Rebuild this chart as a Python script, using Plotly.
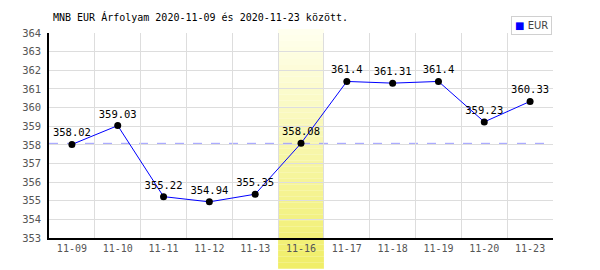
import plotly.graph_objects as go

dates = ["11-09", "11-10", "11-11", "11-12", "11-13", "11-16",
         "11-17", "11-18", "11-19", "11-20", "11-23"]
rates = [358.02, 359.03, 355.22, 354.94, 355.35, 358.08,
         361.4, 361.31, 361.4, 359.23, 360.33]
rate_labels = ["358.02", "359.03", "355.22", "354.94", "355.35", "358.08",
               "361.4", "361.31", "361.4", "359.23", "360.33"]
highlight_idx = 5
title = "MNB EUR Árfolyam 2020-11-09 és 2020-11-23 között."
series_name = "EUR"

FONT = "DejaVu Sans Mono"
xs = list(range(len(dates)))

fig = go.Figure()
fig.add_trace(go.Scatter(
    x=xs, y=rates, mode="lines+markers+text",
    text=rate_labels, textposition="top center",
    textfont=dict(family=FONT, size=10.5, color="#000"),
    line=dict(color="#0000ff", width=1),
    marker=dict(color="#000", size=7),
    showlegend=False, cliponaxis=False, hoverinfo="skip",
))

shapes = []
# gradient highlight column (top light -> bottom yellow)
n = 40
y_top, y_bot = 1.02, -0.15
top_c = (255, 255, 238)
bot_c = (240, 238, 104)
for i in range(n):
    f = i / (n - 1)
    c = tuple(int(round(top_c[k] + (bot_c[k] - top_c[k]) * f)) for k in range(3))
    y0 = y_top + (y_bot - y_top) * i / n
    y1 = y_top + (y_bot - y_top) * (i + 1) / n
    shapes.append(dict(type="rect", xref="x", yref="paper",
                       x0=highlight_idx - 0.5, x1=highlight_idx + 0.5,
                       y0=y1, y1=y0, fillcolor="rgb(%d,%d,%d)" % c,
                       line=dict(width=0), layer="below"))
shapes.append(dict(type="line", xref="paper", yref="y", x0=0, x1=1,
                   y0=rates[highlight_idx], y1=rates[highlight_idx],
                   line=dict(color="#9a9aff", width=1, dash="dash"),
                   layer="below"))

fig.update_layout(
    width=600, height=270,
    margin=dict(l=49, r=47, t=33, b=32),
    paper_bgcolor="#fff", plot_bgcolor="rgba(0,0,0,0)",
    shapes=shapes,
    title=dict(text=title, x=53 / 600, xanchor="left", y=1 - 17 / 270,
               yanchor="middle", font=dict(family=FONT, size=10, color="#000")),
    xaxis=dict(range=[-0.5, len(dates) - 0.5], tickvals=xs, ticktext=dates,
               showgrid=False, showline=True, linecolor="#000", linewidth=1.5,
               zeroline=False, ticks="",
               tickfont=dict(family=FONT, size=10, color="#555"),
               minor=dict(tick0=-0.5, dtick=1, showgrid=True,
                          gridcolor="#dddddd", gridwidth=1, ticks=""),
               layer="above traces"),
    yaxis=dict(range=[353, 364], dtick=1, showgrid=True, gridcolor="#dddddd",
               gridwidth=1, showline=True, linecolor="#000", linewidth=1.5,
               zeroline=False, ticks="", ticklabelstandoff=4,
               tickfont=dict(family=FONT, size=10.5, color="#555")),
    showlegend=False,
    annotations=[dict(
        xref="paper", yref="paper", x=(552 - 49) / 504, y=(238 - 26) / 205,
        xanchor="right", yanchor="middle", showarrow=False,
        text="<span style='color:#0000ff'>■</span> " + series_name,
        font=dict(family="DejaVu Sans", size=10, color="#444"),
        bordercolor="#d0d0d0", borderwidth=1, borderpad=3, bgcolor="#fff",
    )],
)

fig.write_html("out.html")
